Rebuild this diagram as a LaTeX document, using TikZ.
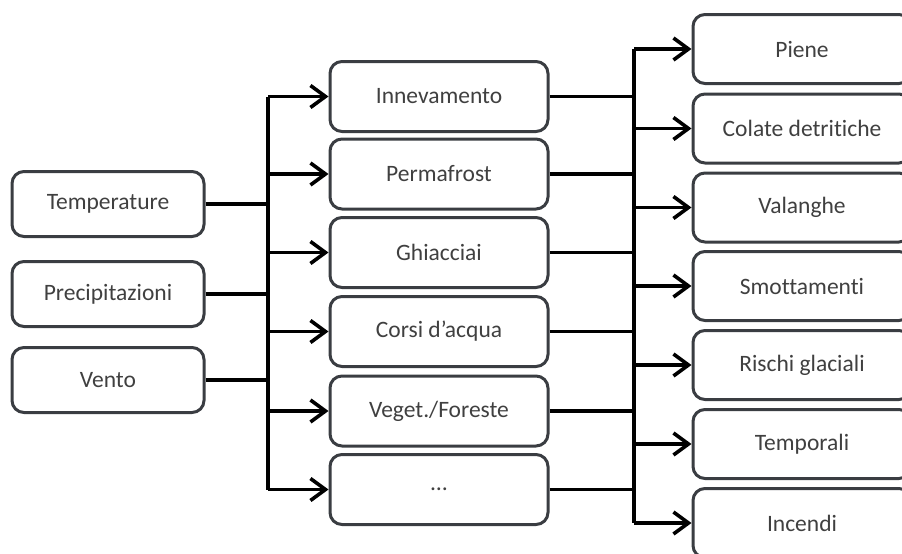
\documentclass[tikz,border=0pt]{standalone}
\usepackage{fontspec}
\setmainfont{Carlito}[Ligatures=NoCommon]
\usetikzlibrary{arrows.meta}
\definecolor{boxgray}{HTML}{3A3D42}
\definecolor{txtgray}{HTML}{404040}
\tikzset{
  box/.style={draw=boxgray, line width=3pt, rounded corners=12pt, fill=white,
    text=txtgray, font=\fontsize{23.5}{28}\selectfont, inner sep=0pt},
  causebox/.style={box, minimum width=192pt, minimum height=65pt},
  effectbox/.style={box, minimum width=218pt, minimum height=70pt},
  riskbox/.style={box, minimum width=218pt, minimum height=69pt},
  link/.style={line width=3.6pt, black},
  arr/.style={link, -{Straight Barb[length=15pt,width=22pt]}},
}
\begin{document}
\begin{tikzpicture}[x=1pt, y=-1pt]
    \useasboundingbox (0,0) rectangle (902,554);
    \clip (0,0) rectangle (902,554);
    % causes
    \node[causebox] (temp) at (108,204) {Temperature};
    \node[causebox] (prec) at (108,294) {Precipitazioni};
    \node[causebox] (vento) at (108,380) {Vento};
    % effects
    \node[effectbox] (inn) at (439,96.5) {Innevamento};
    \node[effectbox] (perma) at (439,174) {Permafrost};
    \node[effectbox] (ghiac) at (439,252.5) {Ghiacciai};
    \node[effectbox] (corsi) at (439,331.5) {Corsi d’acqua};
    \node[effectbox] (veget) at (439,411) {Veget./Foreste};
    \node[effectbox] (dots) at (439,489.5) {…};
    % risks
    \node[riskbox] (piene) at (802,49) {Piene};
    \node[riskbox] (colate) at (802,128.5) {Colate detritiche};
    \node[riskbox] (valan) at (802,207.5) {Valanghe};
    \node[riskbox] (smott) at (802,286) {Smottamenti};
    \node[riskbox] (rischi) at (802,365) {Rischi glaciali};
    \node[riskbox] (tempor) at (802,444) {Temporali};
    \node[riskbox] (incendi) at (802,523) {Incendi};
    % buses
    \coordinate (busL) at (268,0);
    \coordinate (busR) at (634,0);
    \draw[link] (busL |- inn.west) -- (busL |- dots.west);
    \draw[link] (busR |- piene.west) -- (busR |- incendi.west);
    \foreach \n in {temp,prec,vento}
        \draw[link] (\n.east) -- (\n.east -| busL);
    \foreach \n in {inn,perma,ghiac,corsi,veget,dots}
        \draw[arr] (busL |- \n.west) -- (\n.west);
    \foreach \n in {inn,perma,ghiac,corsi,veget,dots}
        \draw[link] (\n.east) -- (\n.east -| busR);
    \foreach \n in {piene,colate,valan,smott,rischi,tempor,incendi}
        \draw[arr] (busR |- \n.west) -- (\n.west);
\end{tikzpicture}
\end{document}
